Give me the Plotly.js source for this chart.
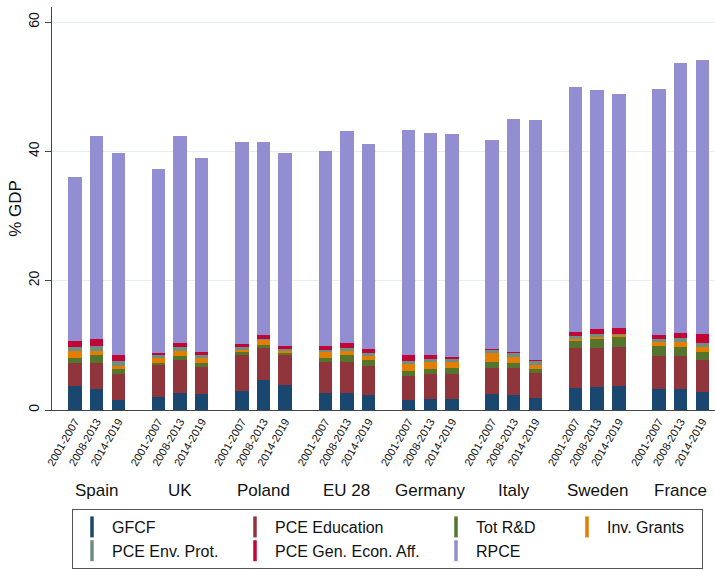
<!DOCTYPE html>
<html>
<head>
<meta charset="utf-8">
<script src="https://cdn.plot.ly/plotly-3.0.1.min.js"></script>
<style>html,body{margin:0;padding:0;background:#fff;}#chart{width:715px;height:570px;}</style>
</head>
<body>
<div id="chart"></div>
<script>
// ---- Data (values in % of GDP), country-major: each country has 3 periods ----
const countries = ["Spain", "UK", "Poland", "EU 28", "Germany", "Italy", "Sweden", "France"];
const periods = ["2001-2007", "2008-2013", "2014-2019"];

const gfcf      = [3.65, 3.25, 1.55,  2.05, 2.65, 2.45,  3.0, 4.7, 3.85,  2.7, 2.7, 2.35,  1.6, 1.7, 1.65,  2.45, 2.35, 1.85,  3.4, 3.5, 3.65,  3.2, 3.3, 2.85];
const pceEdu    = [3.65, 4.05, 3.95,  4.9, 5.15, 4.25,  5.45, 4.9, 4.65,  4.7, 4.8, 4.5,  3.7, 3.8, 3.85,  4.1, 4.1, 3.8,  6.2, 6.1, 6.1,  5.2, 5.1, 4.95];
const totRD     = [0.7, 1.15, 0.9,  0.3, 0.5, 0.55,  0.5, 0.5, 0.35,  0.7, 0.95, 0.95,  0.75, 0.9, 1.05,  0.9, 0.85, 0.65,  1.1, 1.4, 1.55,  1.5, 1.3, 1.1];
const invGrants = [1.2, 0.75, 0.4,  0.75, 0.85, 0.75,  0.35, 0.7, 0.3,  0.8, 0.65, 0.5,  1.05, 0.95, 0.8,  1.4, 0.95, 0.65,  0.3, 0.3, 0.25,  0.55, 0.75, 0.8];
const pceEnv    = [0.6, 0.7, 0.8,  0.55, 0.65, 0.55,  0.4, 0.2, 0.35,  0.45, 0.5, 0.55,  0.5, 0.55, 0.6,  0.45, 0.6, 0.65,  0.45, 0.4, 0.2,  0.55, 0.75, 0.6];
const pceGenEcon= [0.9, 1.1, 0.85,  0.3, 0.55, 0.4,  0.5, 0.55, 0.45,  0.6, 0.7, 0.65,  0.9, 0.65, 0.3,  0.2, 0.15, 0.15,  0.65, 0.8, 0.95,  0.65, 0.65, 1.45];
const rpce      = [25.4, 31.3, 31.25,  28.45, 32.05, 29.95,  31.3, 29.95, 29.75,  30.15, 32.8, 31.7,  34.8, 34.35, 34.45,  32.3, 36.0, 37.15,  37.9, 37.0, 36.2,  38.05, 41.75, 42.45];

const seriesNames = ["GFCF", "PCE Education", "Tot R&D", "Inv. Grants", "PCE Env. Prot.", "PCE Gen. Econ. Aff.", "RPCE"];
const seriesValues = [gfcf, pceEdu, totRD, invGrants, pceEnv, pceGenEcon, rpce];
const seriesColors = ["#1a476f", "#90353b", "#55752f", "#e37e00", "#6e8e84", "#c10534", "#938dd2"];
const legendColumn = ["c1", "c2", "c3", "c4", "c1", "c2", "c3"];
const columnWidth = {c1: 118, c2: 156, c3: 86, c4: 90};

// ---- Layout helpers ----
const W = 715, H = 570, ML = 52, MR = 0, MT = 7, MB = 160;
const plotW = W - ML - MR, plotH = H - MT - MB;
const px2paperX = p => (p - ML) / plotW;
const px2paperY = p => (H - MB - p) / plotH;

const groupStride = 3.85;
const xPos = [], tickText = [];
countries.forEach((c, ci) => periods.forEach((p, pi) => {
  xPos.push(ci * groupStride + pi);
  tickText.push(p);
}));

const FONT = "Liberation Sans, Arial, Helvetica, sans-serif";
const traces = [];
seriesNames.forEach((name, i) => {
  traces.push({
    type: "bar", x: xPos, y: seriesValues[i], name: name, width: 0.62,
    marker: {color: seriesColors[i], line: {width: 0}},
    showlegend: false, hoverinfo: "name+y"
  });
});
// legend entries (thin vertical bar symbols, like the original)
seriesNames.forEach((name, i) => {
  traces.push({
    type: "scatter", x: [null], y: [null], name: name, mode: "markers",
    legendgroup: legendColumn[i], legendwidth: columnWidth[legendColumn[i]],
    marker: {symbol: "line-ns-open", size: 15, color: seriesColors[i], line: {color: seriesColors[i], width: 3.5}}
  });
});

const annotations = countries.map((c, ci) => ({
  text: c, x: ci * groupStride + 1, xref: "x", y: px2paperY(490), yref: "paper",
  showarrow: false, xanchor: "center", yanchor: "middle",
  font: {family: FONT, size: 17, color: "#111"}
}));

const layout = {
  width: W, height: H,
  margin: {l: ML, r: MR, t: MT, b: MB},
  paper_bgcolor: "#ffffff", plot_bgcolor: "#ffffff",
  font: {family: FONT, color: "#111"},
  barmode: "stack",
  xaxis: {
    range: [-1.06, 29.54], tickvals: xPos, ticktext: tickText, tickangle: -60,
    tickfont: {family: FONT, size: 11, color: "#111"},
    showgrid: false, zeroline: false, showline: true, linecolor: "#444", linewidth: 1,
    ticks: ""
  },
  yaxis: {
    range: [0, 62.32], tickvals: [0, 20, 40, 60], tickangle: -90,
    tickfont: {family: FONT, size: 14, color: "#111"},
    ticks: "outside", ticklen: 6, tickcolor: "#444",
    showgrid: true, gridcolor: "#e7eeee", gridwidth: 1,
    zeroline: false, showline: true, linecolor: "#444", linewidth: 1,
    title: {text: "% GDP", font: {family: FONT, size: 17, color: "#111"}, standoff: 0}
  },
  legend: {
    orientation: "h", traceorder: "grouped",
    x: px2paperX(72), xanchor: "left", y: px2paperY(509), yanchor: "top",
    bordercolor: "#555", borderwidth: 1, bgcolor: "#fff",
    font: {family: FONT, size: 16, color: "#111"},
    tracegroupgap: 0, itemclick: false
  },
  annotations: annotations
};

Plotly.newPlot("chart", traces, layout, {displayModeBar: false, staticPlot: true});
</script>
</body>
</html>
